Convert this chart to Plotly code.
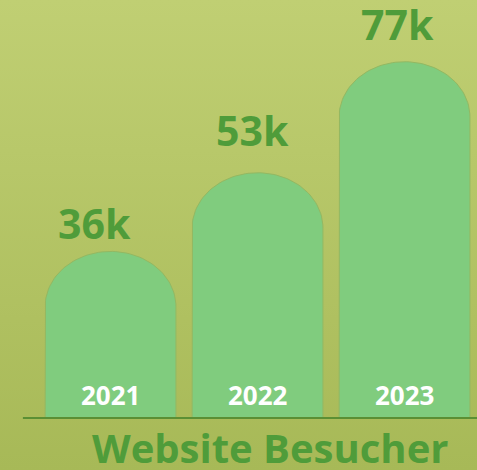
import base64
import numpy as np
import plotly.graph_objects as go

# data
years = ["2021", "2022", "2023"]
visitors = [36, 53, 77]  # in thousands
value_labels = ["36k", "53k", "77k"]
title_text = "Website Besucher"

# label nudges (px) to match the original placement
label_dx = [-16, -5, -7]
label_dy = [-2, 13, 8]

bar_color = "#80cc7e"
text_green = "#4f9c3a"
line_green = "#5b8f34"

half_w = 0.445      # half bar width in category units
dome_h = 11.9       # height of the rounded top in data units

# gradient background as inline svg
svg = ('<svg xmlns="http://www.w3.org/2000/svg" width="10" height="100" preserveAspectRatio="none">'
       '<defs><linearGradient id="g" x1="0" y1="0" x2="0" y2="1">'
       '<stop offset="0" stop-color="#c0cf73"/><stop offset="1" stop-color="#a7b957"/>'
       '</linearGradient></defs><rect width="10" height="100" fill="url(#g)"/></svg>')
bg_src = "data:image/svg+xml;base64," + base64.b64encode(svg.encode()).decode()

fig = go.Figure()

theta = np.linspace(np.pi, 0, 60)
for i, v in enumerate(visitors):
    xs = [i - half_w, i - half_w] + list(i + half_w * np.cos(theta)) + [i + half_w, i - half_w]
    ys = [0, v - dome_h] + list(v - dome_h + dome_h * np.sin(theta)) + [0, 0]
    fig.add_trace(go.Scatter(x=xs, y=ys, mode="lines", fill="toself",
                             fillcolor=bar_color, line=dict(color="#93b862", width=1),
                             hoverinfo="skip", showlegend=False))

for i, (v, lab, yr) in enumerate(zip(visitors, value_labels, years)):
    fig.add_annotation(x=i, y=v, text=lab, showarrow=False, yanchor="bottom",
                       yshift=label_dy[i], xshift=label_dx[i],
                       font=dict(family="Open Sans", size=41, color=text_green, weight="bold"))
    fig.add_annotation(x=i, y=0, text=yr, showarrow=False, yanchor="bottom", yshift=3,
                       font=dict(family="Open Sans", size=26, color="white", weight="bold"))

fig.add_annotation(x=0.566, y=0.047, xref="paper", yref="paper", text=title_text, showarrow=False,
                   yanchor="middle", font=dict(family="Open Sans", size=40, color=text_green, weight="bold"))

fig.add_shape(type="line", xref="paper", yref="y", x0=0.048, x1=1, y0=0, y1=0,
              line=dict(color=line_green, width=2))

fig.add_layout_image(source=bg_src, xref="paper", yref="paper", x=0, y=1, sizex=1, sizey=1,
                     xanchor="left", yanchor="top", sizing="stretch", layer="below")

fig.update_layout(
    width=477, height=470,
    margin=dict(l=0, r=0, t=0, b=0),
    paper_bgcolor="#b4c565", plot_bgcolor="rgba(0,0,0,0)",
    xaxis=dict(range=[-0.752, 2.493], visible=False, fixedrange=True),
    yaxis=dict(range=[-11.24, 90.34], visible=False, fixedrange=True),
)

fig.write_html("out.html", config={"displayModeBar": False},
               post_script="document.body.style.margin='0';document.body.style.overflow='hidden';")
